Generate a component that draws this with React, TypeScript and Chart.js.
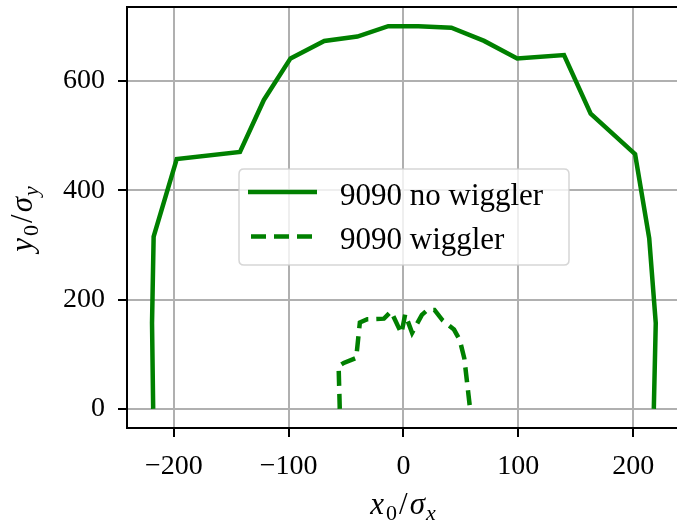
import React, { useEffect, useRef } from "react";
import { Chart, registerables } from "chart.js";

Chart.register(...registerables);

const noWigglerX = [-218, -219, -217.6, -197.5, -142.4, -121.6, -98.4, -69, -40.2, -13.3, 13, 41.7, 70.2, 99, 139.8, 163, 201.7, 214, 219.7, 218];
const noWigglerY = [0, 157, 315, 457, 470, 565, 641, 673, 681, 700, 700, 697, 673, 641, 647, 540, 466, 312, 157, 0];

const wigglerX = [-55.5, -56.5, -52, -41.2, -38, -31.5, -17, -10.8, -1.8, 1.5, 7.5, 16, 21, 27, 34, 44, 49, 53, 58];
const wigglerY = [0, 78, 84, 93, 158, 164, 165, 178, 138, 173, 139, 172, 181, 181, 162, 145, 126, 92, 0];

const seriesNames = ["9090 no wiggler", "9090 wiggler"];
const xTicks = [-200, -100, 0, 100, 200];
const yTicks = [0, 200, 400, 600];

const GREEN = "#008000";
const FONT = "'Liberation Serif', 'DejaVu Serif', serif";

type Seg = { t: string; italic?: boolean; size: number; dy?: number; gap?: number };

function drawMath(ctx: CanvasRenderingContext2D, segs: Seg[], cx: number, baseY: number) {
  let total = 0;
  const widths: number[] = [];
  for (const s of segs) {
    ctx.font = `${s.italic ? "italic " : ""}${s.size}px ${FONT}`;
    const w = ctx.measureText(s.t).width + (s.gap || 0);
    widths.push(w);
    total += w;
  }
  let x = cx - total / 2;
  ctx.textBaseline = "alphabetic";
  ctx.textAlign = "left";
  segs.forEach((s, i) => {
    ctx.font = `${s.italic ? "italic " : ""}${s.size}px ${FONT}`;
    ctx.fillText(s.t, x, baseY + (s.dy || 0));
    x += widths[i];
  });
}

const decorPlugin = {
  id: "decor",
  afterDraw(chart: any) {
    const ctx: CanvasRenderingContext2D = chart.ctx;
    const a = chart.chartArea;
    ctx.save();
    ctx.strokeStyle = "#000";
    ctx.lineWidth = 2;
    ctx.beginPath();
    ctx.moveTo(a.left, a.top);
    ctx.lineTo(a.right, a.top);
    ctx.stroke();

    ctx.fillStyle = "#000";
    drawMath(
      ctx,
      [
        { t: "x", italic: true, size: 31, gap: 2 },
        { t: "0", size: 22, dy: 6, gap: 2 },
        { t: "/", size: 31, gap: 2 },
        { t: "σ", italic: true, size: 31, gap: 1 },
        { t: "x", italic: true, size: 22, dy: 6 },
      ],
      403,
      514
    );
    ctx.save();
    ctx.translate(32, 219);
    ctx.rotate(-Math.PI / 2);
    drawMath(
      ctx,
      [
        { t: "y", italic: true, size: 31, gap: 2 },
        { t: "0", size: 22, dy: 6, gap: 2 },
        { t: "/", size: 31, gap: 2 },
        { t: "σ", italic: true, size: 31, gap: 1 },
        { t: "y", italic: true, size: 22, dy: 6 },
      ],
      0,
      0
    );
    ctx.restore();

    const bx = 239, by = 169, bw = 330, bh = 96, r = 5;
    ctx.beginPath();
    ctx.moveTo(bx + r, by);
    ctx.lineTo(bx + bw - r, by);
    ctx.quadraticCurveTo(bx + bw, by, bx + bw, by + r);
    ctx.lineTo(bx + bw, by + bh - r);
    ctx.quadraticCurveTo(bx + bw, by + bh, bx + bw - r, by + bh);
    ctx.lineTo(bx + r, by + bh);
    ctx.quadraticCurveTo(bx, by + bh, bx, by + bh - r);
    ctx.lineTo(bx, by + r);
    ctx.quadraticCurveTo(bx, by, bx + r, by);
    ctx.closePath();
    ctx.fillStyle = "rgba(255,255,255,0.8)";
    ctx.fill();
    ctx.strokeStyle = "rgba(204,204,204,0.8)";
    ctx.lineWidth = 1.5;
    ctx.stroke();

    const rows = [192, 236.5];
    ctx.strokeStyle = GREEN;
    ctx.lineWidth = 4.5;
    ctx.lineCap = "butt";
    rows.forEach((yy, i) => {
      ctx.setLineDash(i === 0 ? [] : [15, 8]);
      ctx.beginPath();
      ctx.moveTo(i === 0 ? 248 : 251, yy);
      ctx.lineTo(i === 0 ? 317 : 316, yy);
      ctx.stroke();
    });
    ctx.setLineDash([]);
    ctx.fillStyle = "#000";
    ctx.font = `31px ${FONT}`;
    ctx.textAlign = "left";
    ctx.textBaseline = "alphabetic";
    ctx.fillText(seriesNames[0], 340, 205);
    ctx.fillText(seriesNames[1], 340, 249);
    ctx.restore();
  },
};

function fmt(v: number) {
  return v < 0 ? "\u2212" + Math.abs(v) : String(v);
}

export default function App() {
  const ref = useRef<HTMLCanvasElement | null>(null);
  useEffect(() => {
    if (!ref.current) return;
    const chart = new Chart(ref.current, {
      type: "scatter",
      data: {
        datasets: [
          {
            label: seriesNames[0],
            data: noWigglerX.map((x, i) => ({ x, y: noWigglerY[i] })),
            showLine: true,
            borderColor: GREEN,
            backgroundColor: GREEN,
            borderWidth: 4.5,
            pointRadius: 0,
            tension: 0,
          },
          {
            label: seriesNames[1],
            data: wigglerX.map((x, i) => ({ x, y: wigglerY[i] })),
            showLine: true,
            borderColor: GREEN,
            backgroundColor: GREEN,
            borderWidth: 4.5,
            borderDash: [15, 8],
            pointRadius: 0,
            tension: 0,
          },
        ],
      },
      options: {
        animation: false,
        responsive: false,
        devicePixelRatio: 1,
        layout: { padding: { top: 7, left: 0, right: 0, bottom: 0 } },
        plugins: { legend: { display: false }, tooltip: { enabled: false } },
        scales: {
          x: {
            type: "linear",
            min: -240.8,
            max: 238.2,
            afterBuildTicks: (s: any) => {
              s.ticks = xTicks.map((v) => ({ value: v }));
            },
            afterFit: (s: any) => {
              s.height = 94;
              s.paddingLeft = 0;
              s.paddingRight = 0;
              s.paddingTop = 0;
              s.paddingBottom = 0;
            },
            grid: { color: "#b0b0b0", lineWidth: 2, tickColor: "#000", tickLength: 9, tickWidth: 2 },
            border: { display: true, color: "#000", width: 2 },
            ticks: {
              color: "#000",
              font: { family: FONT, size: 28 },
              padding: 13,
              maxRotation: 0,
              autoSkip: false,
              callback: (v: any) => fmt(Number(v)),
            },
          },
          y: {
            type: "linear",
            min: -35,
            max: 735,
            afterBuildTicks: (s: any) => {
              s.ticks = yTicks.map((v) => ({ value: v }));
            },
            afterFit: (s: any) => {
              s.width = 127;
              s.paddingLeft = 0;
              s.paddingRight = 0;
              s.paddingTop = 0;
              s.paddingBottom = 0;
            },
            grid: { color: "#b0b0b0", lineWidth: 2, tickColor: "#000", tickLength: 9, tickWidth: 2 },
            border: { display: true, color: "#000", width: 2 },
            ticks: {
              color: "#000",
              font: { family: FONT, size: 28 },
              padding: 13,
              autoSkip: false,
              callback: (v: any) => fmt(Number(v)),
            },
          },
        },
      },
      plugins: [decorPlugin],
    });
    return () => chart.destroy();
  }, []);
  return (
    <div style={{ position: "fixed", left: 0, top: 0, width: 677, height: 522, background: "#fff" }}>
      <canvas ref={ref} width={677} height={522} style={{ width: 677, height: 522, display: "block" }} />
    </div>
  );
}
